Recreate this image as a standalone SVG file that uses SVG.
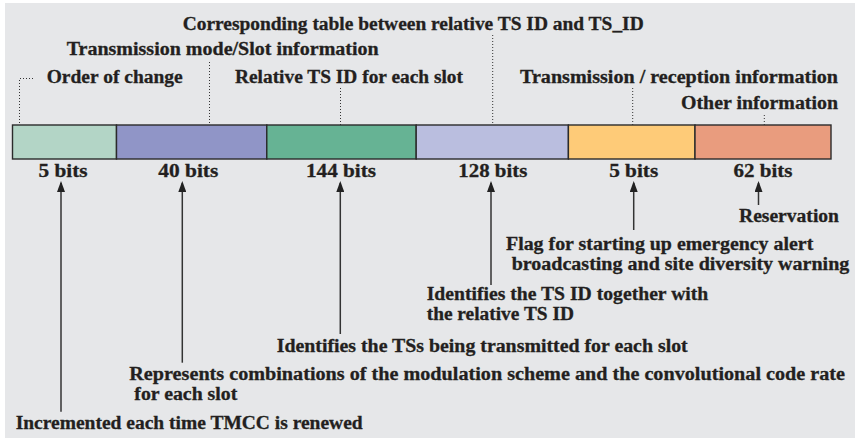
<svg xmlns="http://www.w3.org/2000/svg" width="866" height="442" viewBox="0 0 866 442">
  <style>
    text { font-family: "Liberation Serif", "Times New Roman", serif; font-weight: bold; font-size: 18.5px; fill: #231f20; stroke: #231f20; stroke-width: 0.3; }
    .seg { stroke: #2b2b2b; stroke-width: 1.4; }
    .dot { fill: none; stroke: #333; stroke-width: 1; stroke-dasharray: 1 2; }
    .lead { fill: none; stroke: #333; stroke-width: 1.5; marker-end: url(#tip); }
    .mid { text-anchor: middle; }
  </style>
  <defs>
    <!-- arrowhead drawn along +x; tip at x=11 -->
    <marker id="tip" viewBox="0 0 11 8" refX="9" refY="4" markerWidth="11" markerHeight="8" markerUnits="userSpaceOnUse" orient="auto">
      <path d="M0 0 L11 4 L0 8 Z" fill="#222"/>
    </marker>
  </defs>

  <rect x="5" y="3" width="850" height="435" fill="#e6e7e9"/>

  <!-- TMCC field bar -->
  <g id="field-order">
    <rect class="seg" x="12.5" y="125" width="104" height="34" fill="#b3d5c6"/>
    <text class="mid" x="63" y="177" textLength="49" lengthAdjust="spacingAndGlyphs">5 bits</text>
  </g>
  <g id="field-mode">
    <rect class="seg" x="116.5" y="125" width="150.3" height="34" fill="#9095c7"/>
    <text class="mid" x="188.3" y="177" textLength="60" lengthAdjust="spacingAndGlyphs">40 bits</text>
  </g>
  <g id="field-relative">
    <rect class="seg" x="266.8" y="125" width="149.4" height="34" fill="#66b394"/>
    <text class="mid" x="341" y="177" textLength="70" lengthAdjust="spacingAndGlyphs">144 bits</text>
  </g>
  <g id="field-table">
    <rect class="seg" x="416.2" y="125" width="152.2" height="34" fill="#babedf"/>
    <text class="mid" x="492.8" y="177" textLength="69" lengthAdjust="spacingAndGlyphs">128 bits</text>
  </g>
  <g id="field-txrx">
    <rect class="seg" x="568.4" y="125" width="126.6" height="34" fill="#fecb78"/>
    <text class="mid" x="633.7" y="177" textLength="49" lengthAdjust="spacingAndGlyphs">5 bits</text>
  </g>
  <g id="field-other">
    <rect class="seg" x="695" y="125" width="136" height="34" fill="#e99c7e"/>
    <text class="mid" x="763" y="177" textLength="59" lengthAdjust="spacingAndGlyphs">62 bits</text>
  </g>

  <!-- Field names above the bar -->
  <g id="name-order">
    <text x="46.7" y="83" textLength="136" lengthAdjust="spacingAndGlyphs">Order of change</text>
  </g>
  <g id="name-mode">
    <text x="66.7" y="55" textLength="312" lengthAdjust="spacingAndGlyphs">Transmission mode/Slot information</text>
  </g>
  <g id="name-relative">
    <text x="235" y="83" textLength="228" lengthAdjust="spacingAndGlyphs">Relative TS ID for each slot</text>
  </g>
  <g id="name-table">
    <text x="182.7" y="29.5" textLength="461" lengthAdjust="spacingAndGlyphs">Corresponding table between relative TS ID and TS_ID</text>
  </g>
  <g id="name-txrx">
    <text x="520" y="83" textLength="318" lengthAdjust="spacingAndGlyphs">Transmission / reception information</text>
  </g>
  <g id="name-other">
    <text x="681" y="108.5" textLength="157" lengthAdjust="spacingAndGlyphs">Other information</text>
  </g>

  <!-- Descriptions below the bar -->
  <g id="desc-order">
    <text x="15.7" y="428.5" textLength="347" lengthAdjust="spacingAndGlyphs">Incremented each time TMCC is renewed</text>
  </g>
  <g id="desc-mode">
    <text x="129.3" y="380" textLength="715.7" lengthAdjust="spacingAndGlyphs">Represents combinations of the modulation scheme and the convolutional code rate</text>
    <text x="134.3" y="400" textLength="103" lengthAdjust="spacingAndGlyphs">for each slot</text>
  </g>
  <g id="desc-relative">
    <text x="276.7" y="351.7" textLength="411" lengthAdjust="spacingAndGlyphs">Identifies the TSs being transmitted for each slot</text>
  </g>
  <g id="desc-table">
    <text x="426.7" y="300" textLength="281.6" lengthAdjust="spacingAndGlyphs">Identifies the TS ID together with</text>
    <text x="426.7" y="320" textLength="147.3" lengthAdjust="spacingAndGlyphs">the relative TS ID</text>
  </g>
  <g id="desc-txrx">
    <text x="506" y="250" textLength="307.3" lengthAdjust="spacingAndGlyphs">Flag for starting up emergency alert</text>
    <text x="511.7" y="270" textLength="337.6" lengthAdjust="spacingAndGlyphs">broadcasting and site diversity warning</text>
  </g>
  <g id="desc-other">
    <text x="739" y="221.7" textLength="100" lengthAdjust="spacingAndGlyphs">Reservation</text>
  </g>

  <!-- Connectors -->
  <g id="connectors">
    <!-- dotted name pointers -->
    <path class="dot" d="M33 78.5 H19.5 V125"/>
    <path class="dot" d="M209.5 62 V125"/>
    <path class="dot" d="M340.5 88 V125"/>
    <path class="dot" d="M492.7 35 V125"/>
    <path class="dot" d="M632.7 88 V125"/>
    <path class="dot" d="M764.3 115 V125"/>
    <!-- description arrows -->
    <path class="lead" d="M61 411.7 V183"/>
    <path class="lead" d="M182.3 362.7 V183"/>
    <path class="lead" d="M340.3 334 V183"/>
    <path class="lead" d="M491 285 V183"/>
    <path class="lead" d="M633.7 230 V183"/>
    <path class="lead" d="M758.5 205 V183"/>
  </g>
</svg>
